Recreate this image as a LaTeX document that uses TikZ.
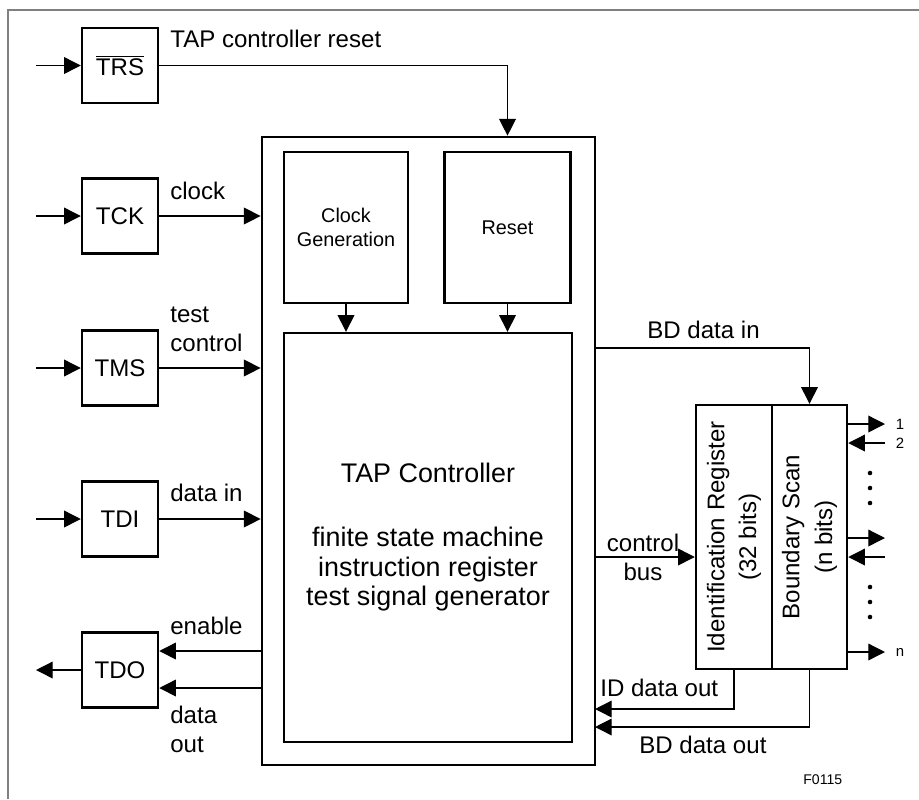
\documentclass[tikz,border=0pt]{standalone}
\usepackage{fontspec}
\setmainfont{Liberation Sans}
\usetikzlibrary{arrows.meta}
\tikzset{
  box/.style={draw, line width=1.4pt, inner sep=0pt, align=center},
  pinbox/.style={box, minimum width=1.52cm, minimum height=1.5cm, font=\fontsize{13.7}{16.4}\selectfont},
  arr/.style={line width=0.75pt, -{Triangle[length=9.5pt,width=9.5pt]}},
  lbl/.style={inner sep=0pt, font=\fontsize{13.7}{16.4}\selectfont},
  smalltxt/.style={inner sep=0pt, font=\fontsize{8.5}{9}\selectfont}
}
\begin{document}
\begin{tikzpicture}[x=0.02cm, y=-0.02cm]
\useasboundingbox (0,0) rectangle (919,799);
\draw[gray, line width=1pt] (8,799) -- (8,10) -- (919,10);

\node[pinbox] (trs) at(120,65.5) {$\overline{\mbox{TRS}}$};
\node[pinbox] (tck) at(120,216) {TCK};
\node[pinbox] (tms) at(120,368) {TMS};
\node[pinbox] (tdi) at(120,519) {TDI};
\node[pinbox] (tdo) at(120,670) {TDO};

\node[box, line width=1.6pt, minimum width=6.66cm, minimum height=12.56cm] (ctrl) at(428.5,451) {};
\node[box, minimum width=2.48cm, minimum height=3.02cm, font=\fontsize{11.3}{14}\selectfont] (clkgen) at(346,227.5) {Clock\\Generation};
\node[box, minimum width=2.52cm, minimum height=3.02cm, font=\fontsize{11.3}{14}\selectfont] (rst) at(507.5,227.5) {Reset};
\node[box, minimum width=5.76cm, minimum height=8.18cm, font=\fontsize{15.3}{17}\selectfont] (tap) at(428,537.5)
  {TAP Controller\\[19pt]finite state machine\\instruction register\\test signal generator};

\node[box, minimum width=1.52cm, minimum height=5.28cm] (idreg) at(734,537) {};
\node[box, minimum width=1.5cm, minimum height=5.28cm] (bsreg) at(809.5,537) {};
\node[lbl, rotate=90, align=center, font=\fontsize{13.7}{18}\selectfont] (idtxt) at(idreg) {Identification Register\\(32 bits)};
\node[lbl, rotate=90, align=center, font=\fontsize{13.7}{18.7}\selectfont] (bstxt) at(bsreg) {Boundary Scan\\(n bits)};

\foreach \n/\y in {trs/65.5, tck/216, tms/368, tdi/519}{
  \coordinate (\n-in) at(36,\y);
  \draw[arr] (\n-in) -- (\n);
}
\coordinate (tdo-out) at(36,670);
\draw[arr] (tdo) -- (tdo-out);

\draw[arr] (trs) -| (rst |- ctrl.north);
\foreach \n in {tck,tms,tdi}
  \draw[arr] (\n) -- (\n -| ctrl.west);
\draw[arr] (clkgen) -- (clkgen |- tap.north);
\draw[arr] (rst) -- (rst |- tap.north);

\coordinate (en) at(262,651);
\coordinate (dout) at(262,688);
\draw[arr] (en) -- (en -| tdo.east);
\draw[arr] (dout) -- (dout -| tdo.east);

\coordinate (bdin) at(595,348);
\coordinate (cbus) at(595,557);
\coordinate (idout) at(595,709);
\coordinate (bdout) at(595,727);
\draw[arr] (bdin) -| (bsreg.north);
\draw[arr] (cbus) -- (cbus -| idreg.west);
\draw[arr] (idreg.south) |- (idout);
\draw[arr] (bsreg.south) |- (bdout);

\foreach \y [count=\i] in {424,538,652}{
  \coordinate (out\i) at(885,\y);
  \draw[arr] (out\i -| bsreg.east) -- (out\i);
}
\foreach \y [count=\i] in {443,557}{
  \coordinate (in\i) at(885,\y);
  \draw[arr] (in\i) -- (in\i -| bsreg.east);
}
\foreach \y in {473,488,503,587,602,617}
  \fill (870,\y) circle (1.3pt);

\node[smalltxt] (p1) at(900,424) {1};
\node[smalltxt] (p2) at(900,443) {2};
\node[smalltxt] (pn) at(900,652) {n};

\node[lbl, anchor=west] (lrst) at(170,39) {TAP controller reset};
\node[lbl, anchor=west] (lclk) at(170,191) {clock};
\node[lbl, anchor=west, align=left] (ltms) at(170,329) {test\\control};
\node[lbl, anchor=west] (ltdi) at(170,493) {data in};
\node[lbl, anchor=west] (len) at(170,626) {enable};
\node[lbl, anchor=west, align=left] (ldout) at(170,729) {data\\out};
\node[lbl, anchor=west] (lbdin) at(647,330) {BD data in};
\node[lbl, align=center] (lcbus) at(643,557) {control\\bus};
\node[lbl, anchor=west] (lidout) at(600,688) {ID data out};
\node[lbl, anchor=west] (lbdout) at(639,745) {BD data out};
\node[smalltxt, anchor=west, font=\fontsize{8}{9}\selectfont] (fig) at(803,780) {F0115};
\end{tikzpicture}
\end{document}
